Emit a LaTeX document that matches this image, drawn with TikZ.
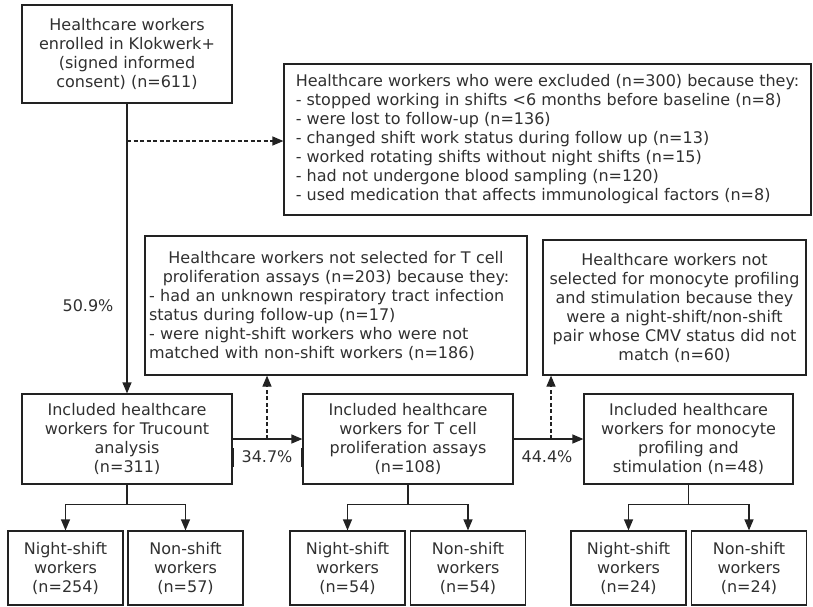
\documentclass[tikz,border=0pt]{standalone}
\usepackage{fontspec}
\setmainfont{DejaVu Sans}
\usetikzlibrary{arrows.meta}
\definecolor{ink}{HTML}{222222}
\definecolor{txt}{HTML}{303030}

\begin{document}
\begin{tikzpicture}[x=1pt,y=-1pt,
  box/.style={draw=ink, line width=1.2pt, inner sep=0pt, text=txt,
    font=\fontsize{16}{19}\selectfont, align=center},
  conn/.style={draw=ink, line width=1.2pt},
  arr/.style={conn, -{Triangle[length=11pt,width=9pt]}},
  dasharr/.style={arr, dash pattern=on 4pt off 2.5pt},
  pct/.style={text=txt, inner sep=0pt, font=\fontsize{16}{19}\selectfont},
  sub/.style={box, minimum width=115pt, minimum height=74pt}
]
\useasboundingbox (0,0) rectangle (813,606);

% enrolment and exclusions
\node[box, minimum width=210pt, minimum height=98pt] (top) at (127,54)
  {Healthcare workers\\enrolled in Klokwerk+\\(signed informed\\consent) (n=611)};
\node[box, minimum width=527pt, minimum height=151pt, align=left] (excl) at (547.5,139.5)
  {Healthcare workers who were excluded (n=300) because they:\\
   - stopped working in shifts <6 months before baseline (n=8)\\
   - were lost to follow-up (n=136)\\
   - changed shift work status during follow up (n=13)\\
   - worked rotating shifts without night shifts (n=15)\\
   - had not undergone blood sampling (n=120)\\
   - used medication that affects immunological factors (n=8)};

% not-selected boxes
\node[box, minimum width=382pt, minimum height=139pt, text width=374pt, align=left] (tnot) at (336,305.5)
  {\makebox[\linewidth][c]{Healthcare workers not selected for T cell}\\
   \makebox[\linewidth][c]{proliferation assays (n=203) because they:}\\
   - had an unknown respiratory tract infection\\
   status during follow-up (n=17)\\
   - were night-shift workers who were not\\
   matched with non-shift workers (n=186)};
\node[box, minimum width=263pt, minimum height=135pt] (mnot) at (674.5,307.5)
  {Healthcare workers not\\selected for monocyte profiling\\and stimulation because they\\were a night-shift/non-shift\\pair whose CMV status did not\\match (n=60)};

% included groups
\node[box, minimum width=210pt, minimum height=90pt] (truc) at (127,439)
  {Included healthcare\\workers for Trucount\\analysis\\(n=311)};
\node[box, minimum width=210pt, minimum height=90pt] (tcell) at (408,439)
  {Included healthcare\\workers for T cell\\proliferation assays\\(n=108)};
\node[box, minimum width=209pt, minimum height=90pt] (mono) at (688.5,439)
  {Included healthcare\\workers for monocyte\\profiling and\\stimulation (n=48)};

% subgroups
\node[sub] (ns1) at (65.5,568) {Night-shift\\workers\\(n=254)};
\node[sub] (nn1) at (185.5,568) {Non-shift\\workers\\(n=57)};
\node[sub] (ns2) at (347.5,568) {Night-shift\\workers\\(n=54)};
\node[sub] (nn2) at (468,568) {Non-shift\\workers\\(n=54)};
\node[sub] (ns3) at (628.5,568) {Night-shift\\workers\\(n=24)};
\node[sub] (nn3) at (749,568) {Non-shift\\workers\\(n=24)};

% percentages
\node[pct] (p1) at (88,306) {50.9\%};
\node[pct] (p2) at (267,457) {34.7\%};
\node[pct] (p3) at (547,457) {44.4\%};

% main flow
\draw[arr] (top.south) -- (truc.north);
\coordinate (j0) at (127,141);
\draw[dasharr] (j0) -- (excl.west |- j0);
\draw[arr] (truc.east) -- (tcell.west);
\coordinate (j1) at (267,439);
\draw[dasharr] (j1) -- (j1 |- tnot.south);
\draw[arr] (tcell.east) -- (mono.west);
\coordinate (j2) at (551,439);
\draw[dasharr] (j2) -- (j2 |- mnot.south);

% splits into night-shift / non-shift
\draw[conn] (truc.south) -- ++(0,20) coordinate (b1);
\draw[arr] (b1) -| (ns1.north);
\draw[arr] (b1) -| (nn1.north);
\draw[conn] (tcell.south) -- ++(0,20) coordinate (b2);
\draw[arr] (b2) -| (ns2.north);
\draw[arr] (b2) -| (nn2.north);
\draw[conn] (mono.south) -- ++(0,20) coordinate (b3);
\draw[arr] (b3) -| (ns3.north);
\draw[arr] (b3) -| (nn3.north);

% heavier border marks beside the first percentage
\draw[ink, line width=2.6pt] (truc.east |- 0,448) -- (truc.east |- 0,467);
\draw[ink, line width=2.6pt] (tcell.west |- 0,448) -- (tcell.west |- 0,467);
\end{tikzpicture}
\end{document}
